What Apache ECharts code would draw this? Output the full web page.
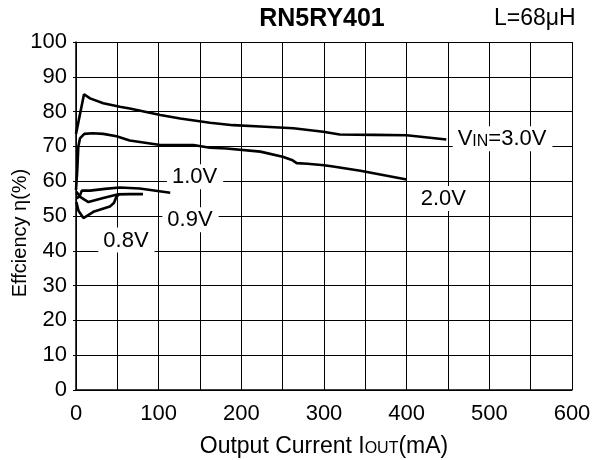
<!DOCTYPE html>
<html>
<head>
<meta charset="utf-8">
<script src="https://cdn.jsdelivr.net/npm/echarts@6/dist/echarts.min.js"></script>
<style>html,body{margin:0;padding:0;background:#fff;}#c{width:599px;height:460px;}</style>
</head>
<body>
<div id="c"></div>
<script>
// ---- data ----
var v30x = [0, 9.7, 17, 33, 53, 65, 102, 126, 162, 190, 223, 263, 299, 319, 360, 400, 448];
var v30y = [73.6, 85, 83.8, 82.4, 81.4, 80.9, 79, 78, 76.8, 76.1, 75.7, 75.2, 74.2, 73.4, 73.3, 73.2, 72];
var v20x = [0, 1.5, 2.8, 4.8, 10, 20, 33, 49, 65, 102, 142, 162, 182, 223, 250, 262, 267, 280, 300, 311, 344, 400];
var v20y = [57.5, 63, 69.9, 72.3, 73.6, 73.8, 73.6, 72.9, 71.7, 70.4, 70.4, 69.6, 69.4, 68.5, 67, 66, 65.2, 65, 64.6, 64.2, 63, 60.5];
var v10x = [1, 5, 7, 17, 35, 53, 77, 114];
var v10y = [55, 56, 57.3, 57.3, 57.8, 58.2, 57.9, 56.7];
var v09x = [0.5, 5, 15, 33, 50, 65, 81];
var v09y = [57, 55.5, 54, 55.2, 56.2, 56.3, 56.3];
var v08x = [0.5, 3, 9, 21, 41, 46, 49, 52];
var v08y = [54, 51.5, 49.4, 51.2, 52.7, 53.8, 55.6, 56.2];
var labelText = ['V{s|IN}=3.0V', '2.0V', '1.0V', '0.9V', '0.8V'];
var labelX = [516, 445, 144, 138.5, 61];
var labelY = [72.2, 55.0, 61.3, 48.9, 43.1];
var xTicks = [0, 100, 200, 300, 400, 500, 600];
var yTicks = [0, 10, 20, 30, 40, 50, 60, 70, 80, 90, 100];

function pairs(xs, ys) { return xs.map(function (x, i) { return [x, ys[i]]; }); }

var FONT = '"Liberation Sans", Arial, Helvetica, sans-serif';
var lineStyle = { color: '#000', width: 2.6 };
function curve(name, xs, ys) {
  return { name: name, type: 'line', data: pairs(xs, ys), symbol: 'none', smooth: false,
           lineStyle: lineStyle, z: 3, silent: true };
}

var chart = echarts.init(document.getElementById('c'), null, { renderer: 'canvas' });
chart.setOption({
  backgroundColor: '#fff',
  animation: false,
  grid: { left: 76, right: 27, top: 42, bottom: 70, containLabel: false, outerBoundsMode: 'none' },
  xAxis: {
    type: 'value', min: 0, max: 600, interval: 50,
    axisLine: { show: true, lineStyle: { color: '#000', width: 1.5 } },
    axisTick: { show: false },
    splitLine: { show: true, lineStyle: { color: '#000', width: 1 } },
    axisLabel: { color: '#000', fontSize: 22, fontFamily: FONT, margin: 13,
      formatter: function (v) { return xTicks.indexOf(v) >= 0 ? String(v) : ''; } },
    name: 'Output Current I{s|OUT}(mA)', nameLocation: 'middle', nameGap: 45,
    nameTextStyle: { color: '#000', fontSize: 23, fontFamily: FONT,
      rich: { s: { fontSize: 16, fontFamily: FONT, color: '#000', verticalAlign: 'bottom', padding: [0, 0, 1, 0] } } }
  },
  yAxis: {
    type: 'value', min: 0, max: 100, interval: 10,
    axisLine: { show: true, lineStyle: { color: '#000', width: 1.5 } },
    axisTick: { show: true, length: 3, lineStyle: { color: '#000' } },
    splitLine: { show: true, lineStyle: { color: '#000', width: 1 } },
    axisLabel: { color: '#000', fontSize: 22, fontFamily: FONT, margin: 9,
      formatter: function (v) { return yTicks.indexOf(v) >= 0 ? String(v) : ''; } }
  },
  graphic: [
    { type: 'text', x: 322, y: 19, z: 10,
      style: { text: 'RN5RY401', font: 'bold 25px ' + FONT, fill: '#000', textAlign: 'center', textVerticalAlign: 'middle' } },
    { type: 'text', x: 494, y: 19, z: 10,
      style: { text: 'L=68μH', font: '23px ' + FONT, fill: '#000', textAlign: 'left', textVerticalAlign: 'middle' } },
    { type: 'text', x: 20, y: 233, rotation: Math.PI / 2, z: 10,
      style: { text: 'Effciency η(%)', font: '20px ' + FONT, fill: '#000', textAlign: 'center', textVerticalAlign: 'middle' } }
  ],
  series: [
    curve('3.0V', v30x, v30y),
    curve('2.0V', v20x, v20y),
    curve('1.0V', v10x, v10y),
    curve('0.9V', v09x, v09y),
    curve('0.8V', v08x, v08y),
    {
      type: 'scatter', symbolSize: 0, z: 5, silent: true,
      itemStyle: { opacity: 1 },
      data: labelX.map(function (x, i) { return { value: [x, labelY[i]], name: labelText[i] }; }),
      label: {
        show: true, position: 'inside', formatter: function (p) { return p.name; },
        color: '#000', opacity: 1, fontSize: 22, fontFamily: FONT, backgroundColor: '#fff',
        padding: [2, 6, 1, 5], align: 'center', verticalAlign: 'middle',
        rich: { s: { fontSize: 16, fontFamily: FONT, color: '#000', verticalAlign: 'bottom', padding: [0, 0, 1, 0] } }
      }
    }
  ]
});
</script>
</body>
</html>
